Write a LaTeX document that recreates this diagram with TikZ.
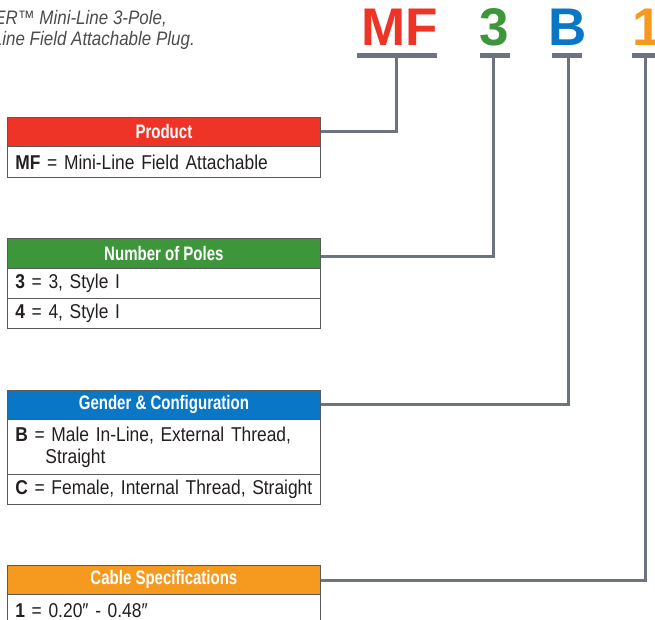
\documentclass[tikz,border=0pt]{standalone}
\usepackage{fontspec}
\setmainfont{Liberation Sans}
\newfontfamily\bodyf{Liberation Sans}[FakeStretch=0.87]
\newfontfamily\headf{Liberation Sans}[FakeStretch=0.77]
\newfontfamily\titlef{Liberation Sans}[FakeStretch=0.87]
\newfontfamily\bigf{Liberation Sans}
\definecolor{cred}{HTML}{EE3426}
\definecolor{cgreen}{HTML}{3E963B}
\definecolor{cblue}{HTML}{0A77C6}
\definecolor{corange}{HTML}{F6991F}
\definecolor{cgray}{HTML}{6D7480}
\definecolor{boxline}{HTML}{5A5A5A}
\definecolor{txt}{HTML}{231F20}
\definecolor{ttl}{HTML}{4D4D4F}
\begin{document}
\begin{tikzpicture}[x=1pt,y=-1pt,
  hdr/.style={anchor=north west, draw=boxline, line width=0.8pt, fill=#1,
    minimum width=313pt, minimum height=29pt, inner sep=0pt, text=white,
    font=\headf\bfseries\fontsize{19.5}{22}\selectfont},
  rowbox/.style={anchor=north west, draw=boxline, line width=0.8pt, fill=white,
    minimum width=313pt, text width=297pt, inner xsep=8pt, inner ysep=0pt,
    minimum height=#1, align=left, text=txt,
    font=\bodyf\fontsize{20}{22}\selectfont},
  big/.style={anchor=base, text=#1, inner sep=0pt,
    font=\bigf\bfseries\fontsize{53}{53}\selectfont},
  ttlline/.style={anchor=base east, inner sep=0pt, text=ttl,
    font=\titlef\itshape\fontsize{19.5}{21}\selectfont},
  conn/.style={draw=cgray, line width=3pt},
  bar/.style={fill=cgray}
]
\useasboundingbox (0,0) rectangle (655,620);
\fill[white] (0,0) rectangle (655,620);

% title
\node[ttlline] (t1) at (167,25) {POWER™ Mini-Line 3-Pole,};
\node[ttlline] (t2) at (195,46) {Male In-Line Field Attachable Plug.};

% code letters
\node[big=cred] (lmf) at (400,46) {MF};
\node[big=cgreen] (l3) at (494,46) {3};
\node[big=cblue] (lb) at (568,46) {B};
\node[big=corange] (l1) at (647,46) {1};

% bars
\fill[bar] (357,53) rectangle (437,58.5);
\fill[bar] (480,53) rectangle (510,58.5);
\fill[bar] (552,53) rectangle (582,58.5);
\fill[bar] (632,53) rectangle (662,58.5);
\coordinate (bmf) at (396,57);
\coordinate (b3) at (493,57);
\coordinate (bb) at (568,57);
\coordinate (b1) at (645,57);

% connectors
\draw[conn] (320,132) coordinate (cp) -| (bmf);
\draw[conn] (320,256) coordinate (cn) -| (b3);
\draw[conn] (320,404) coordinate (cg) -| (bb);
\draw[conn] (320,580) coordinate (cc) -| (b1);

% Product
\node[hdr=cred] (hp) at (7,117) {Product};
\node[rowbox=31pt] (rp) at (7,146) {\textbf{MF} = Mini-Line Field Attachable};

% Number of Poles
\node[hdr=cgreen, minimum height=30pt] (hn) at (7,238) {Number of Poles};
\node[rowbox=30pt] (rn1) at (7,268) {\textbf{3} = 3, Style I};
\node[rowbox=30pt] (rn2) at (7,298) {\textbf{4} = 4, Style I};

% Gender & Configuration
\node[hdr=cblue] (hg) at (7,390) {Gender \& Configuration};
\node[rowbox=55pt] (rg1) at (7,419) {\textbf{B} = Male In-Line, External Thread,\\\hspace*{30pt}Straight};
\node[rowbox=30pt] (rg2) at (7,474) {\textbf{C} = Female, Internal Thread, Straight};

% Cable Specifications
\node[hdr=corange] (hc) at (7,565) {Cable Specifications};
\node[rowbox=32pt] (rc1) at (7,594) {\textbf{1} = 0.20″ - 0.48″};
\end{tikzpicture}
\end{document}
